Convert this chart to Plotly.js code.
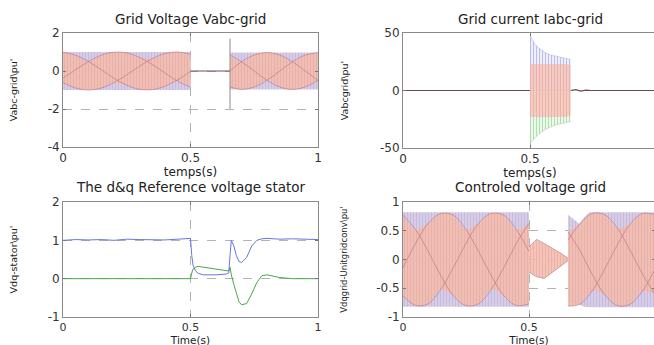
<!DOCTYPE html>
<html><head><meta charset="utf-8">
<script src="https://cdn.plot.ly/plotly-3.0.1.min.js"></script>
<style>html,body{margin:0;padding:0;overflow:hidden;background:#fff}#chart{width:660px;height:352px}</style>
</head><body><div id="chart"></div>
<script>
// ---------- Panel 1: Grid Voltage Vabc-grid ----------
const gvT1 = [0,0.05,0.1,0.15,0.2,0.25,0.3,0.35,0.4,0.45,0.5];
const gvA1 = [0.99,0.83,0.50,0.07,-0.38,-0.75,-0.96,-0.98,-0.80,-0.46,-0.02];
const gvB1 = [-0.38,0.07,0.50,0.83,0.99,0.95,0.72,0.34,-0.11,-0.54,-0.85];
const gvC1 = [-0.61,-0.90,-1.00,-0.90,-0.61,-0.20,0.25,0.65,0.92,1.00,0.88];
const gvBandT1 = [0,0.5], gvBandTop1 = [1,1], gvBandBot1 = [-1,-1];
const gvT2 = [0.655,0.7,0.75,0.8,0.85,0.9,0.95,1.0];
const gvA2 = [0.84,0.49,0.00,-0.49,-0.84,-0.97,-0.84,-0.49];
const gvB2 = [0.00,0.49,0.84,0.97,0.84,0.49,0.00,-0.49];
const gvC2 = [-0.84,-0.97,-0.84,-0.49,0.00,0.49,0.84,0.97];
const gvBandT2 = [0.655,1], gvBandTop2 = [0.97,0.97], gvBandBot2 = [-0.97,-0.97];
const gvFlatT = [0.5,0.655], gvFlatV = [0,0];
const gvSpikeT = [0.655,0.655], gvSpikeV = [1.7,-2.0];

// ---------- Panel 2: Grid current Iabc-grid ----------
const icT = [0.5,0.52,0.54,0.56,0.58,0.6,0.62,0.64,0.66];
const icBlue = [48,40,36,33,31,30,29,28,27];
const icGreen = [-46,-41,-37,-34,-32,-30,-29,-28,-27];
const icRedTop = [23,23,23,23,23,23,23,23,22];
const icRedBot = [-23,-23,-23,-23,-23,-23,-23,-23,-22];
const icBaseT = [0,0.5,0.66,0.68,0.7,0.72,0.74,1.0];
const icBaseV = [0,0,0,0.8,-0.6,0.4,0,0];

// ---------- Panel 3: d&q reference voltage stator ----------
const dqT = [0,0.05,0.1,0.15,0.2,0.25,0.3,0.35,0.4,0.45,0.49,0.5,0.505,0.51,0.52,0.53,0.55,0.6,0.64,0.65,0.655,0.66,0.67,0.68,0.69,0.7,0.72,0.74,0.76,0.78,0.8,0.85,0.9,0.95,1.0];
const dqD = [1.0,1.02,1.01,1.02,1.0,1.03,1.02,1.02,1.01,1.03,1.04,1.05,0.6,0.35,0.2,0.14,0.1,0.1,0.12,0.15,0.6,1.0,0.85,0.6,0.45,0.42,0.55,0.85,1.0,1.04,1.05,1.03,1.04,1.03,1.02];
const dqQ = [0,0,0.01,0,0,0.01,0,0,0.01,0,0.01,0,0.15,0.25,0.3,0.32,0.3,0.25,0.2,0.2,0.3,0.1,-0.15,-0.4,-0.6,-0.68,-0.65,-0.4,-0.1,0.08,0.1,0.03,0,0,0];

// ---------- Panel 4: Controled voltage grid ----------
const cvT1 = [0,0.05,0.1,0.15,0.2,0.25,0.3,0.35,0.4,0.45,0.5];
const cvA1 = [0.77,0.52,0.14,-0.28,-0.63,-0.80,-0.77,-0.52,-0.14,0.28,0.63];
const cvB1 = [-0.14,0.28,0.63,0.80,0.77,0.52,0.14,-0.28,-0.63,-0.80,-0.77];
const cvC1 = [-0.63,-0.80,-0.77,-0.52,-0.14,0.28,0.63,0.80,0.77,0.52,0.14];
const cvBandT1 = [0,0.5], cvBandTop1 = [0.82,0.82], cvBandBot1 = [-0.82,-0.82];
const cvMidT = [0.5,0.53,0.56,0.6,0.63,0.655];
const cvMidTop = [0.22,0.35,0.28,0.18,0.1,0.02];
const cvMidBot = [-0.22,-0.3,-0.33,-0.2,-0.1,-0.02];
const cvT2 = [0.655,0.7,0.75,0.8,0.85,0.9,0.95,1.0];
const cvA2 = [0.48,0.17,-0.25,-0.61,-0.80,-0.78,-0.55,-0.17];
const cvB2 = [0.34,0.61,0.80,0.78,0.55,0.17,-0.25,-0.61];
const cvC2 = [-0.81,-0.78,-0.55,-0.17,0.25,0.61,0.80,0.78];
const cvBandT2 = [0.655,0.68,0.7,0.72,0.74,1.0];
const cvBandTop2 = [0.78,0.7,0.62,0.74,0.82,0.82];
const cvBandBot2 = [-0.74,-0.76,-0.79,-0.82,-0.83,-0.83];

// ---------- tick labels ----------
const xTickVals = [0,0.5,1], xTickText = ['0','0.5','1'];
const xTickValsR = [0,0.5], xTickTextR = ['0','0.5'];
const y1Vals = [-4,-2,0,2], y1Text = ['-4','-2','0','2'];
const y2Vals = [-50,0,50], y2Text = ['-50','0','50'];
const y3Vals = [-1,0,1,2], y3Text = ['-1','0','1','2'];
const y4Vals = [-1,-0.5,0,0.5,1], y4Text = ['-1','-0.5','0','0.5','1'];

// ---------- styles ----------
const PURPLE_BG = 'rgba(206,194,224,0.82)', PURPLE_FG = 'rgba(190,176,216,0.9)';
const PINK_BG = 'rgba(242,188,174,0.88)', PINK_FG = 'rgba(232,168,160,0.9)';
const CURVE = 'rgba(180,110,125,0.7)';

function env(arrs, f){ return arrs[0].map((_,i)=>f(...arrs.map(a=>a[i]))); }
function ln(xa, ya, x, y, color, width, shape, dash){
  return {type:'scatter', mode:'lines', x, y, xaxis:xa, yaxis:ya,
    line:{color, width, shape: shape||'linear', dash: dash||'solid'}, hoverinfo:'skip', showlegend:false};
}
function band(xa, ya, x, lo, hi, bg, fg, shape){
  return [
    {type:'scatter', mode:'lines', x, y:lo, xaxis:xa, yaxis:ya, line:{width:0, color:bg, shape:shape||'linear'}, hoverinfo:'skip', showlegend:false},
    {type:'scatter', mode:'lines', x, y:hi, xaxis:xa, yaxis:ya, fill:'tonexty', fillcolor:bg,
     fillpattern:{shape:'|', size:3, solidity:0.25, fgcolor:fg, bgcolor:bg},
     line:{width:0, color:bg, shape:shape||'linear'}, hoverinfo:'skip', showlegend:false}
  ];
}
function threePhase(xa, ya, t, A, B, C, bt, btop, bbot){
  const mx = env([A,B,C], Math.max), mn = env([A,B,C], Math.min);
  return [
    ...band(xa, ya, bt, bbot, btop, PURPLE_BG, PURPLE_FG),
    ...band(xa, ya, t, mn, mx, PINK_BG, PINK_FG, 'spline'),
    ln(xa, ya, t, A, CURVE, 0.8, 'spline'),
    ln(xa, ya, t, B, CURVE, 0.8, 'spline'),
    ln(xa, ya, t, C, CURVE, 0.8, 'spline')
  ];
}

const traces = [];
// Panel 1
traces.push(...threePhase('x','y', gvT1, gvA1, gvB1, gvC1, gvBandT1, gvBandTop1, gvBandBot1));
traces.push(...threePhase('x','y', gvT2, gvA2, gvB2, gvC2, gvBandT2, gvBandTop2, gvBandBot2));
traces.push(ln('x','y', gvFlatT, gvFlatV, '#7a4a55', 1.2));
traces.push(ln('x','y', gvSpikeT, gvSpikeV, '#8c8c8c', 1));

// Panel 2
traces.push(ln('x2','y2', icBaseT, icBaseV, '#6a4a5a', 1.2));
traces.push({type:'scatter', mode:'lines', x:icT, y:icBlue, xaxis:'x2', yaxis:'y2', fill:'tozeroy',
  fillcolor:'rgba(228,228,250,0.7)', fillpattern:{shape:'|', size:3, solidity:0.3, fgcolor:'rgba(175,175,240,0.9)', bgcolor:'rgba(232,232,252,0.7)'},
  line:{width:0.6, color:'rgba(160,160,235,0.7)'}, hoverinfo:'skip', showlegend:false});
traces.push({type:'scatter', mode:'lines', x:icT, y:icGreen, xaxis:'x2', yaxis:'y2', fill:'tozeroy',
  fillcolor:'rgba(222,242,222,0.7)', fillpattern:{shape:'|', size:3, solidity:0.3, fgcolor:'rgba(160,215,160,0.9)', bgcolor:'rgba(228,245,228,0.7)'},
  line:{width:0.6, color:'rgba(140,200,140,0.7)'}, hoverinfo:'skip', showlegend:false});
traces.push(...band('x2','y2', icT, icRedBot, icRedTop, 'rgba(244,198,188,0.88)', 'rgba(232,168,160,0.9)'));

// Panel 3
traces.push(ln('x3','y3', dqT, dqQ, '#48a848', 1));
traces.push(ln('x3','y3', dqT, dqD, '#6677e0', 1));

// Panel 4
traces.push(...threePhase('x4','y4', cvT1, cvA1, cvB1, cvC1, cvBandT1, cvBandTop1, cvBandBot1));
traces.push(...band('x4','y4', cvMidT, cvMidBot, cvMidTop, PINK_BG, PINK_FG));
traces.push(ln('x4','y4', cvMidT, cvMidTop, CURVE, 0.8));
traces.push(ln('x4','y4', cvMidT, cvMidBot, CURVE, 0.8));
traces.push(...threePhase('x4','y4', cvT2, cvA2, cvB2, cvC2, cvBandT2, cvBandTop2, cvBandBot2));

const W = 660, H = 352;
const FONT = 'DejaVu Sans, Liberation Sans, sans-serif';
const tickFont = {family: FONT, size: 12, color: '#333'};
function xax(d0, d1, tv, tt, anchor, title, tsize, standoff, tfs){
  return {domain:[d0/W, d1/W], range:[0,1], tickvals:tv, ticktext:tt, anchor,
    ticks:'inside', ticklen:3, tickcolor:'#777', mirror:'ticks', showline:true, linecolor:'#8a8a8a', linewidth:1,
    showgrid:true, gridcolor:'#a0a0a0', griddash:'dash', gridwidth:0.8, zeroline:false,
    tickfont:{family:FONT, size:tfs, color:'#333'},
    title:{text:title, font:{family:FONT, size:tsize, color:'#222'}, standoff}};
}
function yax(top, bot, range, tv, tt, anchor, title, tsize, standoff){
  return {domain:[(H-bot)/H, (H-top)/H], range, tickvals:tv, ticktext:tt, anchor,
    ticks:'inside', ticklen:3, tickcolor:'#777', mirror:'ticks', showline:true, linecolor:'#8a8a8a', linewidth:1,
    showgrid:true, gridcolor:'#a0a0a0', griddash:'dash', gridwidth:0.8, zeroline:false, tickfont:tickFont,
    title:{text:title, font:{family:FONT, size:tsize, color:'#222'}, standoff}};
}

const layout = {
  width: W, height: H, margin:{l:0, r:0, t:0, b:0}, paper_bgcolor:'#fff', plot_bgcolor:'#fff',
  showlegend:false,
  xaxis:  xax(63, 318, xTickVals, xTickText, 'y', 'temps(s)', 12, 1, 12),
  yaxis:  yax(33, 147, [-4,2], y1Vals, y1Text, 'x', "Vabc-grid\\pu'", 9.5, 28),
  xaxis2: xax(403, 657, xTickValsR, xTickTextR, 'y2', 'temps(s)', 12, 1, 12),
  yaxis2: yax(33, 148, [-50,50], y2Vals, y2Text, 'x2', "Vabcgrid\\pu'", 9.5, 29),
  xaxis3: xax(63, 318, xTickVals, ['0','0.5','1'], 'y3', 'Time(s)', 10.5, 0, 11),
  yaxis3: yax(202, 317, [-1,2], y3Vals, y3Text, 'x3', "Vdq-stator\\pu'", 9.5, 28),
  xaxis4: xax(403, 655, xTickValsR, xTickTextR, 'y4', 'Time(s)', 10.5, 0, 11),
  yaxis4: yax(202, 317, [-1,1], y4Vals, y4Text, 'x4', "Vdqgrid-Unitgridconv\\pu'", 8.5, 27),
  annotations: [
    {text:'Grid Voltage Vabc-grid', x:190.5/W, y:(H-19)/H},
    {text:'Grid current Iabc-grid', x:530/W, y:(H-19)/H},
    {text:'The d&amp;q Reference voltage stator', x:190.5/W, y:(H-187)/H},
    {text:'Controled voltage grid', x:530/W, y:(H-187)/H}
  ].map(a=>Object.assign({xref:'paper', yref:'paper', xanchor:'center', yanchor:'middle', showarrow:false,
      font:{family:FONT, size:13.5, color:'#222'}}, a))
};

Plotly.newPlot('chart', traces, layout, {staticPlot:true, displayModeBar:false});
</script>
</body></html>
